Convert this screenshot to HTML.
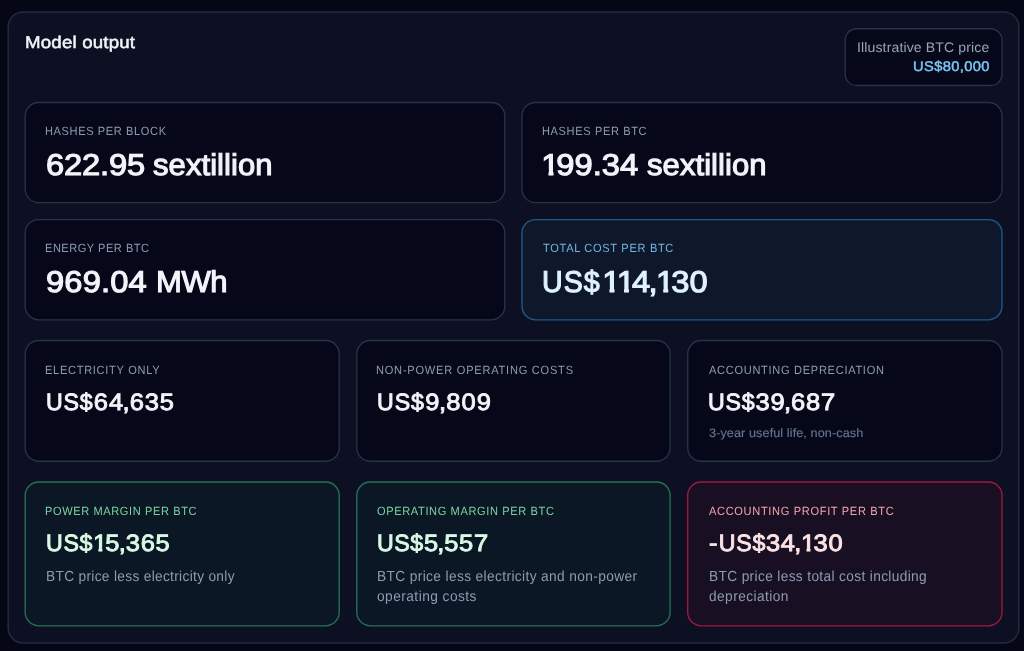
<!DOCTYPE html>
<html lang="en">
<head>
<meta charset="utf-8">
<title>Model output</title>
<style>
  html, body { margin: 0; padding: 0; }
  html { background: #050716; }
  body {
    width: 1024px; height: 651px; overflow: hidden; position: relative;
    background: #050716;
    font-family: "Liberation Sans", sans-serif;
    color: #f1f5f9;
  }
  svg.frames { position: absolute; left: 0; top: 0; }
  .texts { will-change: transform; }
  .t { position: absolute; margin: 0; white-space: nowrap; line-height: 1; font-weight: 400; text-rendering: geometricPrecision; }
  .title { font-size: 17px; -webkit-text-stroke: 0.5px currentColor; color: #f1f5f9; transform: scaleX(1.10); transform-origin: 0 50%; }
  .pl { font-size: 13.8px; color: #98a4b9; transform: scaleX(1.02); transform-origin: 0 50%; }
  .pv { font-size: 14px; -webkit-text-stroke: 0.45px currentColor; color: #7cc8f5; transform: scaleX(1.05); transform-origin: 0 50%; }
  .label { font-size: 11.9px; text-transform: uppercase; color: #8c9bb3; transform: scaleX(0.93); transform-origin: 0 50%; }
  .vlg { font-size: 30px; -webkit-text-stroke: 1.1px currentColor; color: #f1f5f9; transform: scaleX(1.09); transform-origin: 0 50%; }
  .vmd { font-size: 23.6px; -webkit-text-stroke: 0.9px currentColor; color: #f1f5f9; transform: scaleX(1.08); transform-origin: 0 50%; }
  .nsm { font-size: 12.2px; -webkit-text-stroke: 0.15px currentColor; color: #66758f; transform: scaleX(1.04); transform-origin: 0 50%; }
  .note { font-size: 14.6px; line-height: 19.7px; color: #8d9bb2; transform: scaleX(0.94); transform-origin: 0 50%; }
  .seg-b { transform: scaleX(1.035); }
  .seg-us { transform: scaleX(0.955); }
  .us { display: inline-block; transform: scaleX(0.91); transform-origin: 0 50%; margin-right: -0.175em; }
  .cm { margin: 0 -0.03em 0 -0.06em; }
  .n1 { display: inline-block; margin: 0 -0.1em 0 -0.02em; clip-path: polygon(-0.2em -0.3em, 1em -0.3em, 1em 0.62em, 0.37em 0.62em, 0.37em 1.3em, 0.22em 1.3em, 0.22em 0.62em, -0.2em 0.62em); }
  .c-blue-l { color: #72b4e2; }
  .c-blue-v { color: #e0f2fe; }
  .c-green-l { color: #79d1a0; }
  .c-green-v { color: #d9fbe6; }
  .c-red-l { color: #f3a3ad; }
  .c-red-v { color: #fde3e6; }
</style>
</head>
<body>
<svg class="frames" width="1024" height="651" viewBox="0 0 1024 651" fill="none" stroke-width="1.35">
  <!-- outer panel -->
  <rect x="8.2" y="11.9" width="1010.6" height="631.1" rx="15" fill="#0c1022" stroke="#202b42" stroke-width="1.5"/>
  <!-- price pill -->
  <rect x="845.2" y="28.7" width="156.8" height="56.8" rx="11.5" fill="#060819" stroke="#26334b"/>
  <!-- row 1 -->
  <rect x="25.2" y="102.5" width="479.6" height="100.1" rx="13.5" fill="#060819" stroke="#26334b"/>
  <rect x="522" y="102.5" width="480" height="100.1" rx="13.5" fill="#060819" stroke="#26334b"/>
  <!-- row 2 -->
  <rect x="25.2" y="219.6" width="479.6" height="100.2" rx="13.5" fill="#060819" stroke="#26334b"/>
  <rect x="522" y="219.6" width="480" height="100.2" rx="13.5" fill="#0e182a" stroke="#1f5a8f"/>
  <!-- row 3 -->
  <rect x="25.2" y="340.5" width="314" height="120.7" rx="13.5" fill="#060819" stroke="#26334b"/>
  <rect x="356.8" y="340.5" width="313.3" height="120.7" rx="13.5" fill="#060819" stroke="#26334b"/>
  <rect x="687.7" y="340.5" width="314.3" height="120.7" rx="13.5" fill="#060819" stroke="#26334b"/>
  <!-- row 4 -->
  <rect x="25.2" y="482" width="314" height="143.8" rx="13.5" fill="#0b1724" stroke="#257256"/>
  <rect x="356.8" y="482" width="313.3" height="143.8" rx="13.5" fill="#0b1724" stroke="#257256"/>
  <rect x="687.7" y="482" width="314.3" height="143.8" rx="13.5" fill="#180f22" stroke="#9e1a3f"/>
</svg>


<main class="texts">
<header class="head">
  <h2 class="t title" id="title" style="left:24.86px; top:34.21px; letter-spacing:0.158px;">Model output</h2>
  <div class="t pl" id="pl" style="left:856.94px; top:41.32px; letter-spacing:0.117px;">Illustrative BTC price</div>
  <div class="t pv" id="pv" style="left:912.63px; top:59.45px; letter-spacing:0.340px;">US$80,000</div>
</header>
<section class="card">
  <div class="t label" id="l1" style="left:45.04px; top:126.33px; letter-spacing:0.657px;">Hashes per block</div>
  <span class="t vlg" id="v1a" style="left:45.80px; top:151.20px; letter-spacing:-0.153px;">622.95</span>
  <span class="t vlg seg-b" id="v1b" style="left:153.44px; top:151.20px; letter-spacing:0.053px;">sextillion</span>
</section>
<section class="card">
  <div class="t label" id="l2" style="left:541.71px; top:126.33px; letter-spacing:0.667px;">Hashes per BTC</div>
  <span class="t vlg" id="v2a" style="left:541.97px; top:151.20px; letter-spacing:0.001px;"><span class="n1">1</span>99.34</span>
  <span class="t vlg seg-b" id="v2b" style="left:647.44px; top:151.20px; letter-spacing:0.053px;">sextillion</span>
</section>
<section class="card">
  <div class="t label" id="l3" style="left:45.03px; top:243.33px; letter-spacing:0.537px;">Energy per BTC</div>
  <span class="t vlg" id="v3a" style="left:46.31px; top:268.30px; letter-spacing:0.136px;">969.04</span>
  <span class="t vlg seg-b" id="v3b" style="left:156.47px; top:268.30px; letter-spacing:-0.394px;">MWh</span>
</section>
<section class="card blue">
  <div class="t label c-blue-l" id="l4" style="left:543.07px; top:243.33px; letter-spacing:0.731px;">Total cost per BTC</div>
  <span class="t vlg c-blue-v seg-us" id="v4a" style="left:541.97px; top:268.30px; letter-spacing:1.030px;">US$</span>
  <span class="t vlg c-blue-v" id="v4b" style="left:602.76px; top:268.30px; letter-spacing:0.186px;"><span class="n1">1</span><span class="n1">1</span>4<span class="cm">,</span><span class="n1">1</span>30</span>
</section>
<section class="card">
  <div class="t label" id="l5" style="left:44.59px; top:364.83px; letter-spacing:0.754px;">Electricity only</div>
  <div class="t vmd" id="v5" style="left:46.30px; top:391.82px; letter-spacing:0.835px;"><span class="us">US$</span>64<span class="cm">,</span>635</div>
</section>
<section class="card">
  <div class="t label" id="l6" style="left:376.03px; top:364.83px; letter-spacing:0.826px;">Non-power operating costs</div>
  <div class="t vmd" id="v6" style="left:377.29px; top:391.82px; letter-spacing:0.971px;"><span class="us">US$</span>9<span class="cm">,</span>809</div>
</section>
<section class="card">
  <div class="t label" id="l7" style="left:709.43px; top:364.83px; letter-spacing:0.752px;">Accounting depreciation</div>
  <div class="t vmd" id="v7" style="left:708.17px; top:391.82px; letter-spacing:0.729px;"><span class="us">US$</span>39<span class="cm">,</span>687</div>
  <div class="t nsm" id="n7" style="left:709.42px; top:426.97px; letter-spacing:0.073px;">3-year useful life, non-cash</div>
</section>
<section class="card green">
  <div class="t label c-green-l" id="l8" style="left:44.93px; top:505.93px; letter-spacing:0.647px;">Power margin per BTC</div>
  <div class="t vmd c-green-v" id="v8" style="left:46.28px; top:532.82px; letter-spacing:0.698px;"><span class="us">US$</span><span class="n1">1</span>5<span class="cm">,</span>365</div>
  <div class="t note" id="n8" style="left:46.11px; top:568.39px; letter-spacing:0.333px;">BTC price less electricity only</div>
</section>
<section class="card green">
  <div class="t label c-green-l" id="l9" style="left:377.38px; top:505.93px; letter-spacing:0.669px;">Operating margin per BTC</div>
  <div class="t vmd c-green-v" id="v9" style="left:377.28px; top:532.82px; letter-spacing:0.588px;"><span class="us">US$</span>5<span class="cm">,</span>557</div>
  <div class="t note" id="n9" style="left:377.11px; top:568.39px; letter-spacing:0.397px;">BTC price less electricity and non-power<br><span style="letter-spacing:0.487px">operating costs</span></div>
</section>
<section class="card red">
  <div class="t label c-red-l" id="l10" style="left:709.15px; top:505.93px; letter-spacing:0.717px;">Accounting profit per BTC</div>
  <div class="t vmd c-red-v" id="v10" style="left:709.24px; top:532.82px; letter-spacing:0.755px;">-<span class="us">US$</span>34<span class="cm">,</span><span class="n1">1</span>30</div>
  <div class="t note" id="n10" style="left:708.67px; top:568.39px; letter-spacing:0.370px;">BTC price less total cost including<br><span style="letter-spacing:0.460px">depreciation</span></div>
</section>
</main>
</body>
</html>
